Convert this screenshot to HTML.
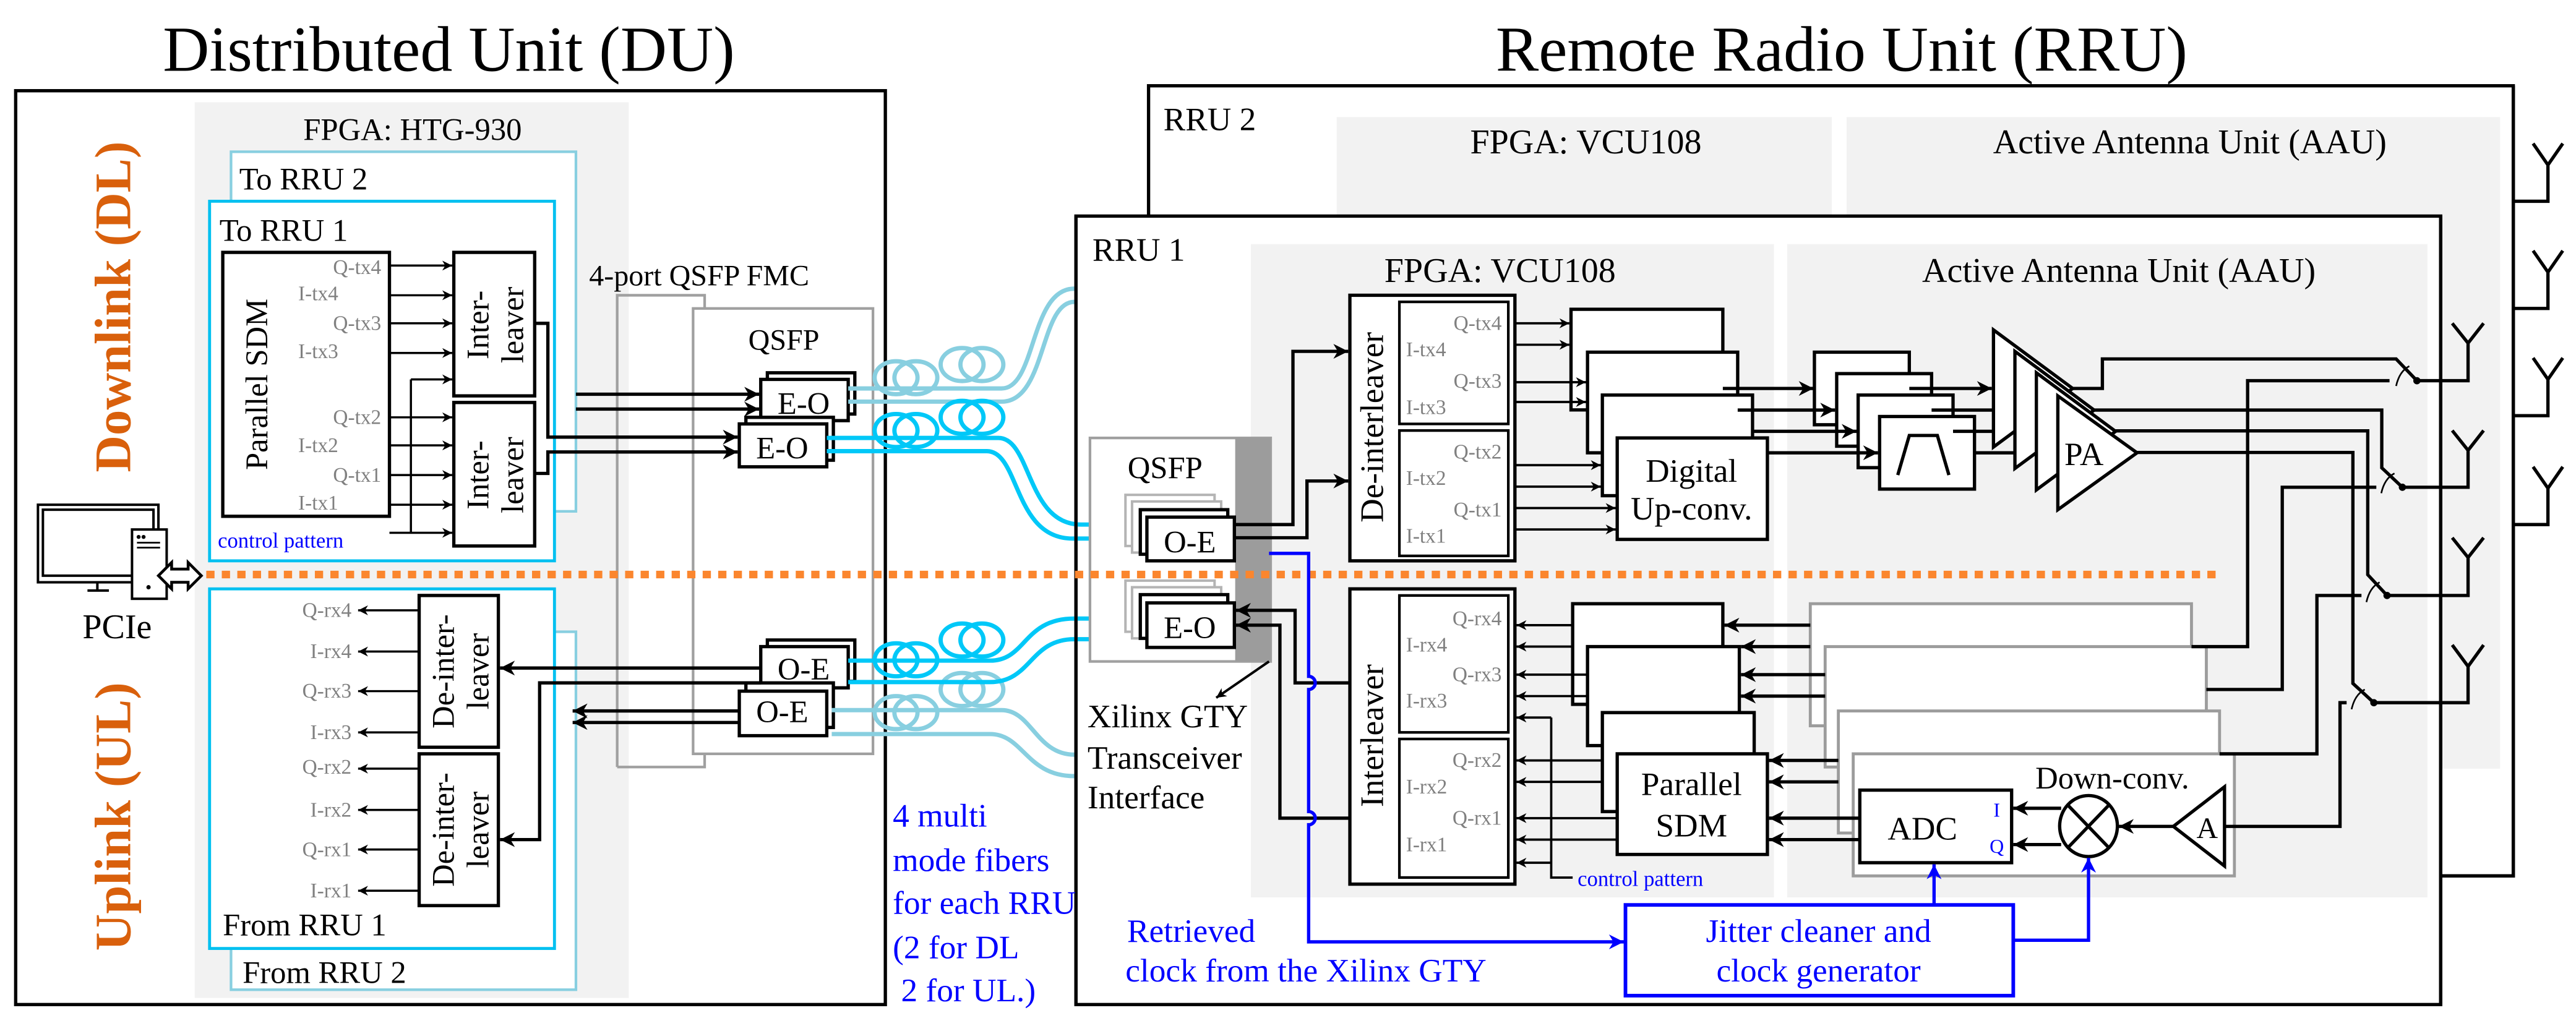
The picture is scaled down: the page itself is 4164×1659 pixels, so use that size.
<!DOCTYPE html>
<html><head><meta charset="utf-8"><style>
html,body{margin:0;padding:0;background:#fff;}
svg{display:block;font-family:"Liberation Serif","Times New Roman",Times,"Nimbus Roman","DejaVu Serif",serif;}
svg text{font-family:"Liberation Serif","Times New Roman",Times,"Nimbus Roman","DejaVu Serif",serif;}
</style></head><body>
<svg width="4164" height="1659" viewBox="0 0 1561 622" preserveAspectRatio="none" xmlns="http://www.w3.org/2000/svg">
<defs>
<marker id="a" viewBox="0 0 10 10" refX="10" refY="5" markerWidth="8" markerHeight="6" markerUnits="userSpaceOnUse" orient="auto"><path d="M0,0L10,5L0,10L3,5z" fill="#000"/></marker>
<marker id="b" viewBox="0 0 10 10" refX="10" refY="5" markerWidth="11" markerHeight="9" markerUnits="userSpaceOnUse" orient="auto"><path d="M0,0L10,5L0,10L3,5z" fill="#000"/></marker>
<marker id="u" viewBox="0 0 10 10" refX="10" refY="5" markerWidth="11" markerHeight="9" markerUnits="userSpaceOnUse" orient="auto"><path d="M0,0L10,5L0,10L3,5z" fill="#0000ff"/></marker>
</defs>
<g>

<text x="272" y="43" font-size="39" text-anchor="middle">Distributed Unit (DU)</text>
<text x="1116" y="43" font-size="39" text-anchor="middle">Remote Radio Unit (RRU)</text>

<rect x="9.5" y="55" width="527" height="554" fill="#fff" stroke="#000" stroke-width="2"/>
<rect x="118" y="62" width="263" height="543" fill="#f2f2f2"/>
<text x="250" y="85" font-size="19" text-anchor="middle">FPGA: HTG-930</text>

<path d="M374 465 V179 H427 V187" fill="none" stroke="#a0a0a0" stroke-width="1.6"/>
<path d="M374 465 H427 V457" fill="none" stroke="#a0a0a0" stroke-width="1.6"/>
<rect x="420" y="187" width="109" height="270" fill="none" stroke="#a0a0a0" stroke-width="1.6"/>
<text x="357" y="173" font-size="18">4-port QSFP FMC</text>
<text x="475" y="212" font-size="18" text-anchor="middle">QSFP</text>

<rect x="140" y="92" width="209" height="218" fill="#fff" stroke="#88cfe0" stroke-width="1.6"/>
<text x="145" y="115" font-size="19">To RRU 2</text>
<rect x="127" y="122" width="209" height="218" fill="#fff" stroke="#00c0f0" stroke-width="1.8"/>
<text x="133" y="146" font-size="19">To RRU 1</text>

<rect x="135" y="153" width="101" height="160" fill="#fff" stroke="#000" stroke-width="2"/>
<text transform="translate(162,233) rotate(-90)" font-size="19" text-anchor="middle">Parallel SDM</text>
<g font-size="12.5" fill="#808080" text-anchor="end">
<text x="231" y="166">Q-tx4</text><text x="205" y="182">I-tx4</text>
<text x="231" y="200">Q-tx3</text><text x="205" y="217">I-tx3</text>
<text x="231" y="257">Q-tx2</text><text x="205" y="274">I-tx2</text>
<text x="231" y="292">Q-tx1</text><text x="205" y="309">I-tx1</text>
</g>
<g stroke="#000" stroke-width="1.3" marker-end="url(#a)">
<line x1="236" y1="161" x2="274" y2="161"/><line x1="236" y1="179" x2="274" y2="179"/>
<line x1="236" y1="196" x2="274" y2="196"/><line x1="236" y1="214" x2="274" y2="214"/>
<line x1="249" y1="230" x2="274" y2="230"/>
<line x1="236" y1="253" x2="274" y2="253"/><line x1="236" y1="270" x2="274" y2="270"/>
<line x1="236" y1="288" x2="274" y2="288"/><line x1="236" y1="306" x2="274" y2="306"/>
<line x1="236" y1="323" x2="274" y2="323"/>
</g>
<line x1="249" y1="230" x2="249" y2="323" stroke="#000" stroke-width="1.3"/>
<text x="132" y="332" font-size="13" fill="#0000ff">control pattern</text>

<rect x="275" y="153" width="49" height="87" fill="#fff" stroke="#000" stroke-width="2"/>
<text transform="translate(296,197) rotate(-90)" font-size="19" text-anchor="middle">Inter-</text>
<text transform="translate(317,197) rotate(-90)" font-size="19" text-anchor="middle">leaver</text>
<rect x="275" y="244" width="49" height="87" fill="#fff" stroke="#000" stroke-width="2"/>
<text transform="translate(296,288) rotate(-90)" font-size="19" text-anchor="middle">Inter-</text>
<text transform="translate(317,288) rotate(-90)" font-size="19" text-anchor="middle">leaver</text>

<rect x="465" y="226" width="53" height="25" fill="#fff" stroke="#000" stroke-width="2"/>
<rect x="461" y="230" width="53" height="25" fill="#fff" stroke="#000" stroke-width="2"/>
<text x="487" y="251" font-size="19" text-anchor="middle">E-O</text>
<rect x="452" y="253" width="53" height="26" fill="#fff" stroke="#000" stroke-width="2"/>
<rect x="448" y="257" width="53" height="26" fill="#fff" stroke="#000" stroke-width="2"/>
<text x="474" y="278" font-size="19" text-anchor="middle">E-O</text>
<g fill="none" stroke="#000" stroke-width="2" marker-end="url(#b)">
<path d="M324 196 H332 V265 H447"/>
<path d="M324 287 H332 V274 H447"/>
<path d="M349 239 H460"/>
<path d="M349 248 H460"/>
</g>

<rect x="140" y="383" width="209" height="217" fill="#fff" stroke="#88cfe0" stroke-width="1.6"/>
<text x="147" y="596" font-size="19">From RRU 2</text>
<rect x="127" y="357" width="209" height="218" fill="#fff" stroke="#00c0f0" stroke-width="1.8"/>
<text x="135" y="567" font-size="19">From RRU 1</text>
<rect x="254" y="361" width="48" height="92" fill="#fff" stroke="#000" stroke-width="2"/>
<text transform="translate(275,407) rotate(-90)" font-size="19" text-anchor="middle">De-inter-</text>
<text transform="translate(296,407) rotate(-90)" font-size="19" text-anchor="middle">leaver</text>
<rect x="254" y="457" width="48" height="92" fill="#fff" stroke="#000" stroke-width="2"/>
<text transform="translate(275,503) rotate(-90)" font-size="19" text-anchor="middle">De-inter-</text>
<text transform="translate(296,503) rotate(-90)" font-size="19" text-anchor="middle">leaver</text>
<g font-size="12.5" fill="#808080" text-anchor="end">
<text x="213" y="374">Q-rx4</text><text x="213" y="399">I-rx4</text>
<text x="213" y="423">Q-rx3</text><text x="213" y="448">I-rx3</text>
<text x="213" y="469">Q-rx2</text><text x="213" y="495">I-rx2</text>
<text x="213" y="519">Q-rx1</text><text x="213" y="544">I-rx1</text>
</g>
<g stroke="#000" stroke-width="1.3" marker-end="url(#a)">
<line x1="254" y1="370" x2="217" y2="370"/><line x1="254" y1="395" x2="217" y2="395"/>
<line x1="254" y1="419" x2="217" y2="419"/><line x1="254" y1="444" x2="217" y2="444"/>
<line x1="254" y1="466" x2="217" y2="466"/><line x1="254" y1="491" x2="217" y2="491"/>
<line x1="254" y1="515" x2="217" y2="515"/><line x1="254" y1="540" x2="217" y2="540"/>
</g>
<rect x="465" y="388" width="53" height="25" fill="#fff" stroke="#000" stroke-width="2"/>
<rect x="461" y="392" width="53" height="25" fill="#fff" stroke="#000" stroke-width="2"/>
<text x="487" y="412" font-size="19" text-anchor="middle">O-E</text>
<rect x="452" y="414" width="53" height="27" fill="#fff" stroke="#000" stroke-width="2"/>
<rect x="448" y="419" width="53" height="27" fill="#fff" stroke="#000" stroke-width="2"/>
<text x="474" y="438" font-size="19" text-anchor="middle">O-E</text>
<g fill="none" stroke="#000" stroke-width="2" marker-end="url(#b)">
<path d="M461 405 H303"/>
<path d="M461 414 H327 V509 H303"/>
<path d="M448 431 H347"/>
<path d="M448 438 H347"/>
</g>

<text transform="translate(79,186) rotate(-90)" font-size="31" font-weight="bold" fill="#d9600c" text-anchor="middle">Downlink (DL)</text>
<text transform="translate(79,495) rotate(-90)" font-size="31" font-weight="bold" fill="#d9600c" text-anchor="middle">Uplink (UL)</text>

<rect x="23" y="306" width="73" height="47" fill="#fff" stroke="#000" stroke-width="1.5"/>
<rect x="26" y="309" width="67" height="40" fill="none" stroke="#000" stroke-width="1.5"/>
<path d="M59 353 V358 M53 358 H66" stroke="#000" stroke-width="1.5"/>
<rect x="80" y="321" width="21" height="42" fill="#fff" stroke="#000" stroke-width="1.5"/>
<circle cx="84" cy="325.5" r="1.2"/><circle cx="87" cy="325.5" r="1.2"/>
<path d="M83 329 H97 M83 332 H97" stroke="#000" stroke-width="1"/>
<circle cx="90" cy="356" r="1.3"/>
<path d="M96 349 L104 341 V345 H114 V341 L122 349 L114 357 V353 H104 V357 Z" fill="#fff" stroke="#000" stroke-width="1.7"/>
<text x="50" y="387" font-size="21">PCIe</text>

<rect x="696" y="52" width="827" height="479" fill="#fff" stroke="#000" stroke-width="2"/>
<text x="705" y="79" font-size="20">RRU 2</text>
<rect x="810" y="71" width="300" height="80" fill="#f2f2f2"/>
<text x="961" y="93" font-size="21" text-anchor="middle">FPGA: VCU108</text>
<rect x="1119" y="71" width="396" height="395" fill="#f2f2f2"/>
<text x="1327" y="93" font-size="21" text-anchor="middle">Active Antenna Unit (AAU)</text>
<g fill="none" stroke="#000" stroke-width="2">
<path d="M1523 122 H1544 V100 M1535 87 L1544 100 L1553 87"/>
<path d="M1523 187 H1544 V165 M1535 152 L1544 165 L1553 152"/>
<path d="M1523 252 H1544 V230 M1535 217 L1544 230 L1553 217"/>
<path d="M1523 318 H1544 V296 M1535 283 L1544 296 L1553 283"/>
</g>

<rect x="652" y="131" width="827" height="478" fill="#fff" stroke="#000" stroke-width="2"/>
<text x="662" y="158" font-size="20">RRU 1</text>
<rect x="758" y="148" width="317" height="396" fill="#f2f2f2"/>
<text x="909" y="171" font-size="21" text-anchor="middle">FPGA: VCU108</text>
<rect x="1083" y="148" width="388" height="396" fill="#f2f2f2"/>
<text x="1284" y="171" font-size="21" text-anchor="middle">Active Antenna Unit (AAU)</text>

<g fill="none" stroke-width="2.6">
<g stroke="#88cfe0">
<path d="M514 235.5 H607 C628 235.5 624 175 651 175"/>
<path d="M514 243.5 H607 C634 243.5 630 183 651 183"/>
<ellipse cx="543" cy="229" rx="13" ry="10"/><ellipse cx="555" cy="229" rx="13" ry="10"/>
<ellipse cx="583" cy="221" rx="13" ry="10"/><ellipse cx="595" cy="221" rx="13" ry="10"/>
<path d="M504 430.5 H607 C625 430.5 628 457.5 651 457.5"/>
<path d="M504 445 H600 C620 445 622 470.5 651 470.5"/>
<ellipse cx="543" cy="432" rx="13" ry="10"/><ellipse cx="555" cy="432" rx="13" ry="10"/>
<ellipse cx="583" cy="418" rx="13" ry="10"/><ellipse cx="595" cy="418" rx="13" ry="10"/>
</g>
<g stroke="#00c8f8">
<path d="M501 265.5 H605 C625 265.5 622 318 655 318 H691"/>
<path d="M501 273.5 H598 C618 273.5 614 326.5 650 326.5 H695"/>
<ellipse cx="543" cy="261" rx="13" ry="10"/><ellipse cx="555" cy="261" rx="13" ry="10"/>
<ellipse cx="583" cy="253" rx="13" ry="10"/><ellipse cx="595" cy="253" rx="13" ry="10"/>
<path d="M514 400.5 H600 C622 400.5 620 375 651 375 H691"/>
<path d="M514 413.5 H600 C625 413.5 624 387.5 651 387.5 H695"/>
<ellipse cx="543" cy="400" rx="13" ry="10"/><ellipse cx="555" cy="400" rx="13" ry="10"/>
<ellipse cx="583" cy="388" rx="13" ry="10"/><ellipse cx="595" cy="388" rx="13" ry="10"/>
</g>
</g>
<line x1="652" y1="131" x2="652" y2="609" stroke="#000" stroke-width="2"/>

<rect x="660.5" y="265.5" width="109.5" height="135.5" fill="#fff" stroke="#a0a0a0" stroke-width="1.6"/>
<rect x="748.5" y="265.5" width="21.5" height="135.5" fill="#9c9c9c"/>
<text x="706" y="290" font-size="19" text-anchor="middle">QSFP</text>
<rect x="682" y="300" width="54" height="31" fill="#fff" stroke="#b4b4b4" stroke-width="1.5"/>
<rect x="686" y="304" width="54" height="31" fill="#fff" stroke="#b4b4b4" stroke-width="1.5"/>
<rect x="691" y="309" width="53" height="27" fill="#fff" stroke="#000" stroke-width="2"/>
<rect x="695" y="313.5" width="53" height="26.5" fill="#fff" stroke="#000" stroke-width="2"/>
<text x="721" y="335" font-size="19" text-anchor="middle">O-E</text>
<rect x="682" y="352" width="54" height="31" fill="#fff" stroke="#b4b4b4" stroke-width="1.5"/>
<rect x="686" y="356" width="54" height="31" fill="#fff" stroke="#b4b4b4" stroke-width="1.5"/>
<rect x="691" y="360.5" width="53" height="26.5" fill="#fff" stroke="#000" stroke-width="2"/>
<rect x="695" y="365.5" width="53" height="27" fill="#fff" stroke="#000" stroke-width="2"/>
<text x="721" y="387" font-size="19" text-anchor="middle">E-O</text>
<line x1="769" y1="401" x2="737" y2="423" stroke="#000" stroke-width="1.5" marker-end="url(#a)"/>
<text x="659" y="441" font-size="20">Xilinx GTY</text>
<text x="659" y="466" font-size="20">Transceiver</text>
<text x="659" y="490" font-size="20">Interface</text>

<g fill="none" stroke="#000" stroke-width="2" marker-end="url(#b)">
<path d="M748 318 H783.5 V213 H817"/>
<path d="M748 326 H792 V291.6 H817"/>
</g>
<rect x="818" y="179" width="100" height="161" fill="#fff" stroke="#000" stroke-width="2"/>
<text transform="translate(838,259) rotate(-90)" font-size="20" text-anchor="middle">De-interleaver</text>
<rect x="848" y="183" width="66" height="74" fill="#fff" stroke="#000" stroke-width="1.6"/>
<rect x="848" y="261" width="66" height="76" fill="#fff" stroke="#000" stroke-width="1.6"/>
<g font-size="12.5" fill="#808080">
<text x="910" y="200" text-anchor="end">Q-tx4</text><text x="852" y="216">I-tx4</text>
<text x="910" y="235" text-anchor="end">Q-tx3</text><text x="852" y="251">I-tx3</text>
<text x="910" y="278" text-anchor="end">Q-tx2</text><text x="852" y="294">I-tx2</text>
<text x="910" y="313" text-anchor="end">Q-tx1</text><text x="852" y="329">I-tx1</text>
</g>

<rect x="952" y="187.5" width="92" height="61" fill="#fff" stroke="#000" stroke-width="2"/>
<rect x="962" y="213.5" width="91" height="61" fill="#fff" stroke="#000" stroke-width="2"/>
<rect x="971" y="239.5" width="91" height="61" fill="#fff" stroke="#000" stroke-width="2"/>
<rect x="980" y="265.5" width="91" height="61.5" fill="#fff" stroke="#000" stroke-width="2"/>
<text x="1025" y="292" font-size="20" text-anchor="middle">Digital</text>
<text x="1025" y="315" font-size="20" text-anchor="middle">Up-conv.</text>
<g stroke="#000" stroke-width="1.4" marker-end="url(#a)">
<line x1="918" y1="196" x2="951" y2="196"/><line x1="918" y1="209" x2="951" y2="209"/>
<line x1="918" y1="231.7" x2="961" y2="231.7"/><line x1="918" y1="243.7" x2="961" y2="243.7"/>
<line x1="918" y1="282" x2="970" y2="282"/><line x1="918" y1="295" x2="970" y2="295"/>
<line x1="918" y1="308" x2="979" y2="308"/><line x1="918" y1="321" x2="979" y2="321"/>
</g>

<rect x="1099.5" y="213.5" width="57.5" height="44" fill="#fff" stroke="#000" stroke-width="2"/>
<rect x="1113" y="226.5" width="57.5" height="44" fill="#fff" stroke="#000" stroke-width="2"/>
<rect x="1126" y="239.5" width="57.5" height="44" fill="#fff" stroke="#000" stroke-width="2"/>
<rect x="1139" y="252.5" width="57.5" height="44" fill="#fff" stroke="#000" stroke-width="2"/>
<path d="M1150 288 L1157 264 H1174 L1181 288" fill="none" stroke="#000" stroke-width="2"/>
<g stroke="#000" stroke-width="2" marker-end="url(#b)">
<line x1="1044" y1="235.5" x2="1099" y2="235.5"/>
<line x1="1053" y1="248.6" x2="1112" y2="248.6"/>
<line x1="1062" y1="261.5" x2="1125" y2="261.5"/>
<line x1="1071" y1="274.5" x2="1138" y2="274.5"/>
<line x1="1157" y1="235.5" x2="1207" y2="235.5"/>
<line x1="1170.5" y1="248.6" x2="1220" y2="248.6"/>
<line x1="1183.5" y1="261.5" x2="1233" y2="261.5"/>
<line x1="1196.5" y1="274.5" x2="1246" y2="274.5"/>
</g>
<g fill="#fff" stroke="#000" stroke-width="2">
<path d="M1208 200 L1256 235.5 L1208 271 Z"/>
<path d="M1221 213 L1269 248.6 L1221 284 Z"/>
<path d="M1234 226 L1282 261.5 L1234 297 Z"/>
<path d="M1247 240 L1295 274.5 L1247 309 Z"/>
</g>
<text x="1251" y="282" font-size="20">PA</text>

<g fill="none" stroke="#000" stroke-width="2">
<path d="M1256 235.5 H1274 V217.6 H1452 L1464.6 230.8"/>
<path d="M1269 248.6 H1443.3 V283.6 L1455.8 295.4"/>
<path d="M1282 261.2 H1434.8 V348.4 L1446.5 361"/>
<path d="M1295 274.3 H1425.8 V414.3 L1438.5 426"/>
<path d="M1464.6 230.8 H1495.6 V208 M1486 196 L1495.6 208 L1505 196"/>
<path d="M1455.8 295.4 H1495.6 V273 M1486 261 L1495.6 273 L1505 261"/>
<path d="M1446.5 361 H1495.6 V338 M1486 326 L1495.6 338 L1505 326"/>
<path d="M1438.5 426 H1495.6 V404 M1486 391 L1495.6 404 L1505 391"/>
</g>
<g fill="#000"><circle cx="1464.6" cy="230.8" r="2.2"/><circle cx="1455.8" cy="295.4" r="2.2"/><circle cx="1446.5" cy="361" r="2.2"/><circle cx="1438.5" cy="426" r="2.2"/></g>
<g fill="none" stroke="#000" stroke-width="1">
<path d="M1452 234 Q1454 225 1460 222"/><path d="M1443 299 Q1445 290 1451 287"/>
<path d="M1434 365 Q1436 356 1442 353"/><path d="M1425 430 Q1427 421 1433 418"/>
</g>
<line x1="1479" y1="131" x2="1479" y2="609" stroke="#000" stroke-width="2"/>
<path d="M1479 531 H1523 V52" fill="none" stroke="#000" stroke-width="2"/>

<line x1="125" y1="348.3" x2="1346" y2="348.3" stroke="#fb862e" stroke-width="4.6" stroke-dasharray="5 4.4"/>

<rect x="1097" y="366" width="231" height="74" fill="#fff" stroke="#9c9c9c" stroke-width="1.8"/>
<rect x="1106" y="392" width="231" height="73" fill="#fff" stroke="#9c9c9c" stroke-width="1.8"/>
<rect x="1114" y="431" width="231" height="74" fill="#fff" stroke="#9c9c9c" stroke-width="1.8"/>
<rect x="1123" y="457" width="231" height="74" fill="#fff" stroke="#9c9c9c" stroke-width="1.8"/>
<text x="1280" y="478" font-size="19" text-anchor="middle">Down-conv.</text>
<rect x="1127" y="479" width="92" height="44" fill="#fff" stroke="#000" stroke-width="2"/>
<text x="1165" y="509" font-size="20" text-anchor="middle">ADC</text>
<text x="1210" y="495" font-size="12" fill="#0000ff" text-anchor="middle">I</text>
<text x="1210" y="517" font-size="12" fill="#0000ff" text-anchor="middle">Q</text>
<ellipse cx="1265.6" cy="500.8" rx="17.5" ry="18.5" fill="#fff" stroke="#000" stroke-width="2"/>
<path d="M1253 488 L1278 514 M1278 488 L1253 514" stroke="#000" stroke-width="2"/>
<path d="M1348 477 L1317 501 L1348 525 Z" fill="#fff" stroke="#000" stroke-width="2"/>
<text x="1331" y="508" font-size="18">A</text>
<g stroke="#000" stroke-width="2" marker-end="url(#b)">
<line x1="1317" y1="501" x2="1284" y2="501"/>
<line x1="1249" y1="490" x2="1220" y2="490"/>
<line x1="1249" y1="512" x2="1220" y2="512"/>
</g>
<g fill="none" stroke="#000" stroke-width="2">
<path d="M1328 392 H1362 V230.8 H1448"/>
<path d="M1337 418 H1383 V295.4 H1440"/>
<path d="M1345 457 H1404 V361 H1431"/>
<path d="M1348 501 H1418 V426 H1422"/>
</g>

<rect x="818" y="357" width="100" height="179" fill="#fff" stroke="#000" stroke-width="2"/>
<text transform="translate(838,446) rotate(-90)" font-size="20" text-anchor="middle">Interleaver</text>
<rect x="848" y="361" width="66" height="83" fill="#fff" stroke="#000" stroke-width="1.6"/>
<rect x="848" y="448" width="66" height="84" fill="#fff" stroke="#000" stroke-width="1.6"/>
<g font-size="12.5" fill="#808080">
<text x="910" y="379" text-anchor="end">Q-rx4</text><text x="852" y="395">I-rx4</text>
<text x="910" y="413" text-anchor="end">Q-rx3</text><text x="852" y="429">I-rx3</text>
<text x="910" y="465" text-anchor="end">Q-rx2</text><text x="852" y="481">I-rx2</text>
<text x="910" y="500" text-anchor="end">Q-rx1</text><text x="852" y="516">I-rx1</text>
</g>
<rect x="953" y="366" width="91" height="61" fill="#fff" stroke="#000" stroke-width="2"/>
<rect x="962" y="392" width="92" height="60" fill="#fff" stroke="#000" stroke-width="2"/>
<rect x="971" y="432" width="92" height="60" fill="#fff" stroke="#000" stroke-width="2"/>
<rect x="980" y="457" width="91" height="61" fill="#fff" stroke="#000" stroke-width="2"/>
<text x="1025" y="482" font-size="20" text-anchor="middle">Parallel</text>
<text x="1025" y="507" font-size="20" text-anchor="middle">SDM</text>
<g stroke="#000" stroke-width="1.4" marker-end="url(#a)">
<line x1="953" y1="379" x2="919" y2="379"/><line x1="953" y1="392" x2="919" y2="392"/>
<line x1="962" y1="409" x2="919" y2="409"/><line x1="962" y1="422" x2="919" y2="422"/>
<line x1="940" y1="435" x2="919" y2="435"/>
<line x1="971" y1="461" x2="919" y2="461"/><line x1="971" y1="474" x2="919" y2="474"/>
<line x1="980" y1="496" x2="919" y2="496"/><line x1="980" y1="509" x2="919" y2="509"/>
<line x1="940" y1="523" x2="919" y2="523"/>
</g>
<path d="M940 435 V532 H953" fill="none" stroke="#000" stroke-width="1.4"/>
<text x="956" y="537" font-size="13" fill="#0000ff">control pattern</text>
<g stroke="#000" stroke-width="2" marker-end="url(#b)">
<line x1="1097" y1="379" x2="1045" y2="379"/><line x1="1097" y1="392" x2="1055" y2="392"/>
<line x1="1106" y1="409" x2="1055" y2="409"/><line x1="1106" y1="422" x2="1055" y2="422"/>
<line x1="1114" y1="461" x2="1072" y2="461"/><line x1="1114" y1="474" x2="1072" y2="474"/>
<line x1="1127" y1="496" x2="1072" y2="496"/><line x1="1127" y1="509" x2="1072" y2="509"/>
</g>

<g fill="none" stroke="#000" stroke-width="2" marker-end="url(#b)">
<path d="M818 414 H784.8 V370 H749"/>
<path d="M818 496 H775.6 V379 H749"/>
</g>

<path d="M769 335.5 H793 V410 A4 4 0 0 1 793 418 V492 A4 4 0 0 1 793 500 V571 H984" fill="none" stroke="#0000ff" stroke-width="2" marker-end="url(#u)"/>
<text x="683" y="571" font-size="20" fill="#0000ff">Retrieved</text>
<text x="682" y="595" font-size="20" fill="#0000ff">clock from the Xilinx GTY</text>
<rect x="985" y="548.6" width="235" height="55" fill="#fff" stroke="#0000ff" stroke-width="2.2"/>
<text x="1102" y="571" font-size="20" fill="#0000ff" text-anchor="middle">Jitter cleaner and</text>
<text x="1102" y="595" font-size="20" fill="#0000ff" text-anchor="middle">clock generator</text>
<g fill="none" stroke="#0000ff" stroke-width="2" marker-end="url(#u)">
<path d="M1172 548.6 V524"/>
<path d="M1220 570 H1265.6 V520"/>
</g>

<g font-size="20" fill="#0000ff">
<text x="541" y="501">4 multi</text>
<text x="541" y="528">mode fibers</text>
<text x="541" y="554">for each RRU</text>
<text x="541" y="581">(2 for DL</text>
<text x="541" y="607">&#160;2 for UL.)</text>
</g>
</g>
</svg>
</body></html>
